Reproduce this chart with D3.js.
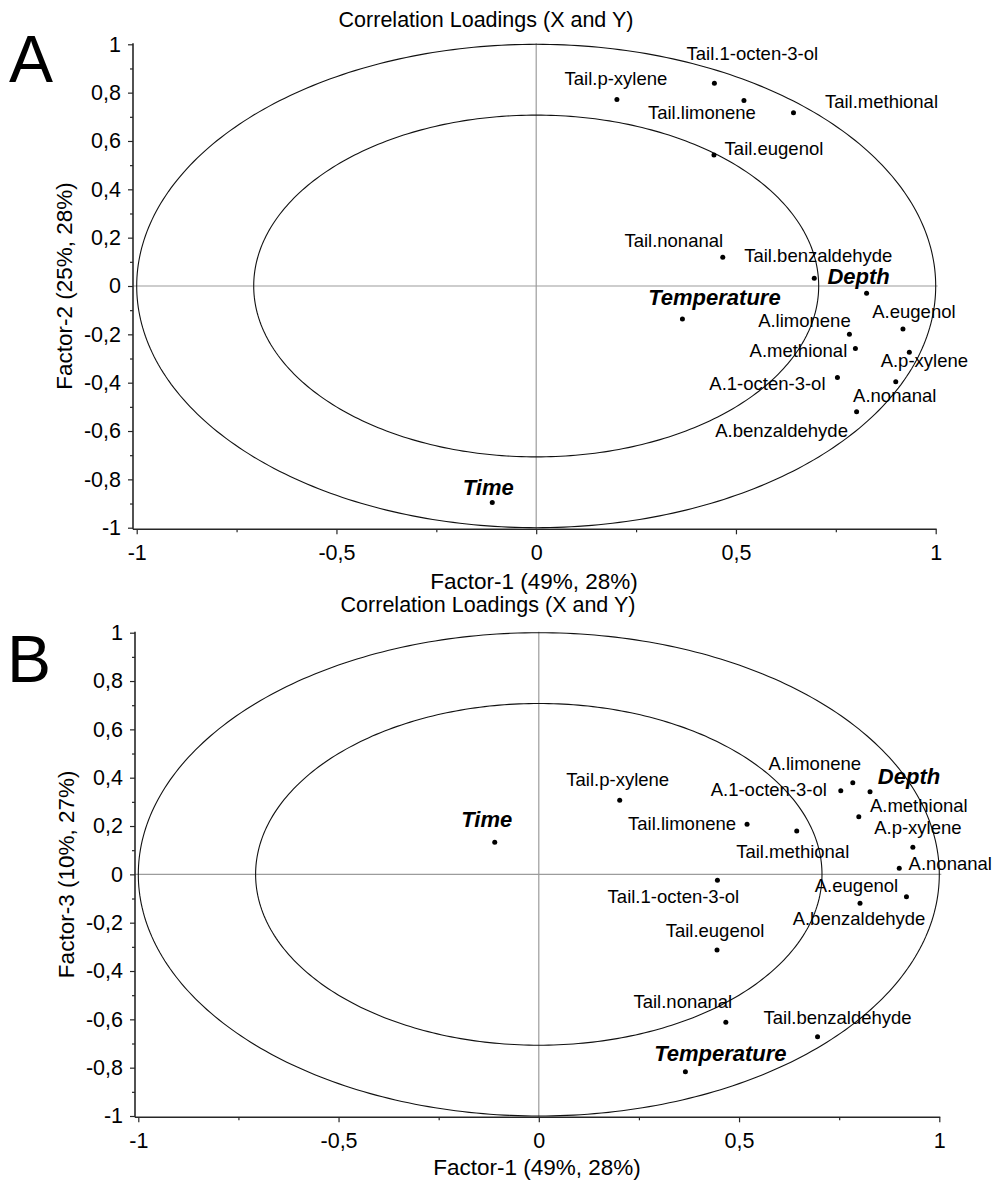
<!DOCTYPE html>
<html>
<head>
<meta charset="utf-8">
<script src="https://cdn.jsdelivr.net/npm/d3@7"></script>
<style>
  html, body { margin: 0; padding: 0; background: #fff; }
  svg { display: block; font-family: "Liberation Sans", Arial, Helvetica, sans-serif; }
</style>
</head>
<body>
<svg id="chart" width="995" height="1184"></svg>
<script>
// ---- Correlation loadings (PLS), factors 1-3 ----
const variables = [
  "Tail.1-octen-3-ol", "Tail.p-xylene", "Tail.limonene", "Tail.methional",
  "Tail.eugenol", "Tail.nonanal", "Tail.benzaldehyde",
  "A.eugenol", "A.limonene", "A.methional", "A.p-xylene",
  "A.1-octen-3-ol", "A.nonanal", "A.benzaldehyde",
  "Depth", "Temperature", "Time"
];
const responseVariables = ["Depth", "Temperature", "Time"];

const factor1 = [0.446, 0.202, 0.520, 0.644, 0.445, 0.467, 0.696,
                 0.918, 0.784, 0.799, 0.934, 0.754, 0.900, 0.802,
                 0.827, 0.366, -0.110];
const factor2 = [0.839, 0.772, 0.767, 0.717, 0.542, 0.119, 0.032,
                 -0.178, -0.200, -0.259, -0.274, -0.379, -0.396, -0.520,
                 -0.030, -0.137, -0.896];
const factor3 = [-0.024, 0.307, 0.207, 0.179, -0.313, -0.612, -0.672,
                 -0.093, 0.379, 0.238, 0.112, 0.346, 0.025, -0.120,
                 0.342, -0.817, 0.133];

// axis ticks (decimal comma)
const xTickValues = [-1, -0.5, 0, 0.5, 1];
const xTickLabels = ["-1", "-0,5", "0", "0,5", "1"];
const xMinorTicks = [-0.75, -0.25, 0.25, 0.75];
const yTickValues = [1, 0.8, 0.6, 0.4, 0.2, 0, -0.2, -0.4, -0.6, -0.8, -1];
const yTickLabels = ["1", "0,8", "0,6", "0,4", "0,2", "0", "-0,2", "-0,4", "-0,6", "-0,8", "-1"];
const yMinorTicks = [0.9, 0.7, 0.5, 0.3, 0.1, -0.1, -0.3, -0.5, -0.7, -0.9];

const panelTitle = "Correlation Loadings (X and Y)";
const xAxisTitle = "Factor-1 (49%, 28%)";
const yAxisTitles = ["Factor-2 (25%, 28%)", "Factor-3 (10%, 27%)"];
const panelLetters = ["A", "B"];
const circleRadii = [1, Math.SQRT1_2];   // 100% and 50% explained variance

// ---- label placement (pixel offsets of label centre/baseline from its point) ----
const labelOffsetsA = [
  [38, -23], [-1, -14], [-42, 18], [88, -5], [60, 0], [-49, -10], [4, -16],
  [11, -11], [-45, -7], [-57, 8], [15, 15], [-70, 12], [-1, 20], [-75, 25],
  [-8, -9], [32, -14], [-4, -8]
];
const labelOffsetsB = [
  [-44, 23], [-2, -14], [-65, 6], [-4, 27], [-2, -13], [-43, -14], [20, -13],
  [-50, -5], [-38, -13], [60, -5], [5, -13], [-72, 5], [51, 2], [-1, 22],
  [39, -8], [35, -11], [-8, -15]
];

// ---- layout of the two panels ----
const panels = [
  { yValues: factor2, offsets: labelOffsetsA, yTitle: yAxisTitles[0], letter: panelLetters[0],
    xRange: [136.7, 935.7], yRange: [527.7, 44.3], yAxisX: 133, xAxisY: 529.3,
    titleX: 486, titleY: 27, xTitleX: 534, xTitleY: 589, yTitleX: 72, letterX: 9, letterY: 82 },
  { yValues: factor3, offsets: labelOffsetsB, yTitle: yAxisTitles[1], letter: panelLetters[1],
    xRange: [138.3, 939.3], yRange: [1116, 632.7], yAxisX: 135, xAxisY: 1117.3,
    titleX: 488, titleY: 612, xTitleX: 537, xTitleY: 1175, yTitleX: 74, letterX: 7, letterY: 682 }
];

const svg = d3.select("#chart");
svg.append("rect").attr("width", 995).attr("height", 1184).attr("fill", "#fff");

const TEXT = "#000";
const AXIS = "#262626";

panels.forEach(p => {
  const x = d3.scaleLinear().domain([-1, 1]).range(p.xRange);
  const y = d3.scaleLinear().domain([-1, 1]).range(p.yRange);
  const g = svg.append("g");

  // panel letter
  g.append("text")
    .attr("x", p.letterX).attr("y", p.letterY)
    .attr("font-size", 66).attr("fill", "#000")
    .text(p.letter);

  // title
  g.append("text")
    .attr("x", p.titleX).attr("y", p.titleY)
    .attr("text-anchor", "middle").attr("font-size", 21.5).attr("fill", TEXT)
    .text(panelTitle);

  // zero reference lines
  g.append("line")
    .attr("x1", p.yAxisX).attr("x2", x(1) + 2)
    .attr("y1", y(0)).attr("y2", y(0))
    .attr("stroke", "#9c9c9c").attr("stroke-width", 1.2);
  g.append("line")
    .attr("x1", x(0)).attr("x2", x(0))
    .attr("y1", y(1) - 1).attr("y2", p.xAxisY)
    .attr("stroke", "#9c9c9c").attr("stroke-width", 1.2);

  // correlation circles
  const angles = d3.range(0, 361, 1).map(a => a * Math.PI / 180);
  circleRadii.forEach(r => {
    const line = d3.line()
      .x(t => x(r * Math.cos(t)))
      .y(t => y(r * Math.sin(t)));
    g.append("path")
      .attr("d", line(angles))
      .attr("fill", "none").attr("stroke", "#111").attr("stroke-width", 1.1);
  });

  // y axis
  const yAxis = g.append("g")
    .attr("transform", `translate(${p.yAxisX},0)`)
    .call(d3.axisLeft(y).tickValues(yTickValues)
      .tickFormat((d, i) => yTickLabels[i]).tickSize(5).tickPadding(7));
  const yMinor = g.append("g")
    .attr("transform", `translate(${p.yAxisX},0)`)
    .call(d3.axisLeft(y).tickValues(yMinorTicks).tickFormat("").tickSize(3));

  // x axis
  const xAxis = g.append("g")
    .attr("transform", `translate(0,${p.xAxisY})`)
    .call(d3.axisBottom(x).tickValues(xTickValues)
      .tickFormat((d, i) => xTickLabels[i]).tickSize(5).tickPadding(10));
  const xMinor = g.append("g")
    .attr("transform", `translate(0,${p.xAxisY})`)
    .call(d3.axisBottom(x).tickValues(xMinorTicks).tickFormat("").tickSize(3));

  [yAxis, yMinor, xAxis, xMinor].forEach(a => {
    a.select(".domain").remove();
    a.selectAll(".tick line").attr("stroke", AXIS).attr("stroke-width", 1.2);
    a.selectAll(".tick text").attr("fill", TEXT).attr("font-size", 21.5)
      .attr("font-family", "\"Liberation Sans\", Arial, sans-serif");
  });

  // axis lines
  g.append("line")
    .attr("x1", p.yAxisX).attr("x2", p.yAxisX)
    .attr("y1", y(1) - 1).attr("y2", p.xAxisY)
    .attr("stroke", AXIS).attr("stroke-width", 1.6);
  g.append("line")
    .attr("x1", p.yAxisX).attr("x2", x(1) + 1)
    .attr("y1", p.xAxisY).attr("y2", p.xAxisY)
    .attr("stroke", AXIS).attr("stroke-width", 1.6);

  // axis titles
  g.append("text")
    .attr("x", p.xTitleX).attr("y", p.xTitleY)
    .attr("text-anchor", "middle").attr("font-size", 22.5).attr("fill", TEXT)
    .text(xAxisTitle);
  g.append("text")
    .attr("transform", `translate(${p.yTitleX},${y(0)}) rotate(-90)`)
    .attr("text-anchor", "middle").attr("font-size", 22.5).attr("fill", TEXT)
    .text(p.yTitle);

  // loadings
  const pts = variables.map((name, i) => ({
    name, fx: factor1[i], fy: p.yValues[i], off: p.offsets[i],
    response: responseVariables.includes(name)
  }));

  g.selectAll("circle.pt").data(pts).join("circle")
    .attr("class", "pt")
    .attr("cx", d => x(d.fx)).attr("cy", d => y(d.fy))
    .attr("r", 2.5).attr("fill", "#000");

  g.selectAll("text.lbl").data(pts).join("text")
    .attr("class", "lbl")
    .attr("x", d => x(d.fx) + d.off[0])
    .attr("y", d => y(d.fy) + d.off[1])
    .attr("text-anchor", "middle")
    .attr("fill", TEXT)
    .attr("font-size", d => d.response ? 22 : 18.5)
    .attr("font-weight", d => d.response ? "bold" : "normal")
    .attr("font-style", d => d.response ? "italic" : "normal")
    .text(d => d.name);
});
</script>
</body>
</html>
